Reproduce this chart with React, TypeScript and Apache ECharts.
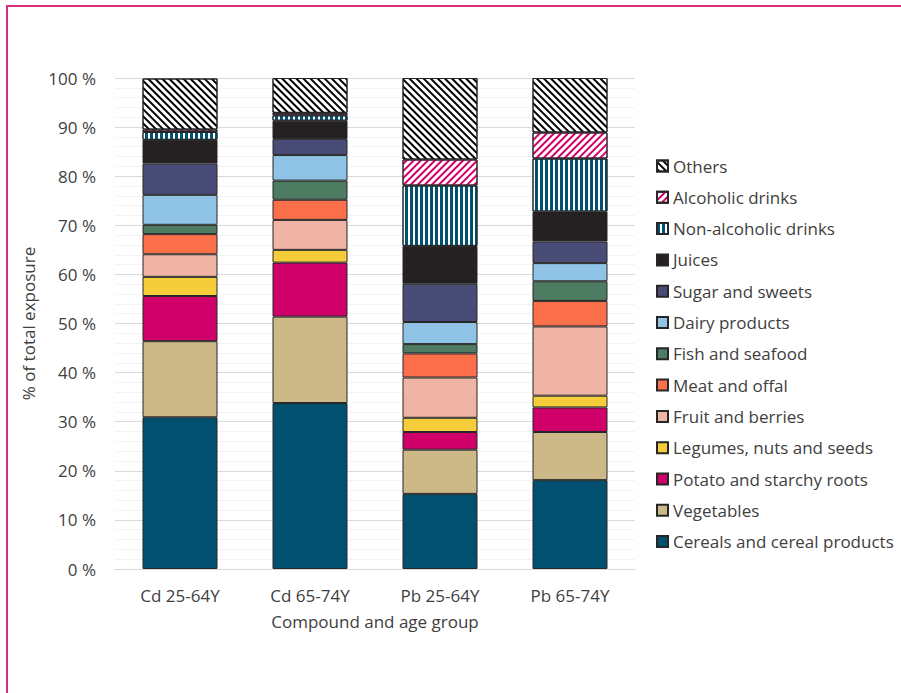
import React, { useEffect, useRef } from "react";
import * as echarts from "echarts";

const categories = ["Cd 25-64Y", "Cd 65-74Y", "Pb 25-64Y", "Pb 65-74Y"];
const yTicks = [0, 10, 20, 30, 40, 50, 60, 70, 80, 90, 100];

const cereals = [30.9, 33.8, 15.3, 18.1];
const vegetables = [15.5, 17.6, 9.0, 9.8];
const potato = [9.2, 11.0, 3.6, 5.0];
const legumes = [3.9, 2.6, 2.9, 2.4];
const fruit = [4.6, 6.1, 8.2, 14.1];
const meat = [4.1, 4.1, 4.9, 5.2];
const fish = [1.9, 3.9, 1.9, 4.0];
const dairy = [6.1, 5.2, 4.5, 3.7];
const sugar = [6.4, 3.3, 7.8, 4.4];
const juices = [4.8, 3.7, 7.7, 6.1];
const nonAlcoholic = [1.6, 1.1, 12.3, 10.8];
const alcoholic = [0.5, 0.5, 5.3, 5.3];
const others = [10.4, 7.1, 16.6, 11.1];

const FONT = "Open Sans";
const TEXT = "#404040";
const FS = 17;

export default function App() {
  const ref = useRef<HTMLDivElement>(null);
  useEffect(() => {
    if (!ref.current) return;
    const chart = echarts.init(ref.current, null, { renderer: "svg" });
    const border = { borderColor: "#262626", borderWidth: 1 };
    const mk = (name: string, data: number[], color: string, decal?: any) => ({
      name,
      type: "bar",
      stack: "total",
      data,
      barWidth: 75,
      itemStyle: { color, ...border, ...(decal ? { decal } : {}) },
    });
    const series = [
      mk("Cereals and cereal products", cereals, "#01506f"),
      mk("Vegetables", vegetables, "#cdb888"),
      mk("Potato and starchy roots", potato, "#cf0069"),
      mk("Legumes, nuts and seeds", legumes, "#f5cd3b"),
      mk("Fruit and berries", fruit, "#f0b4a5"),
      mk("Meat and offal", meat, "#fc6f4b"),
      mk("Fish and seafood", fish, "#4d7c63"),
      mk("Dairy products", dairy, "#8fc4e6"),
      mk("Sugar and sweets", sugar, "#4a4c78"),
      mk("Juices", juices, "#252122"),
      mk("Non-alcoholic drinks", nonAlcoholic, "#ffffff", {
        symbol: "rect",
        symbolSize: 1,
        color: "#01506f",
        dashArrayX: [2.3, 1.2],
        dashArrayY: [1, 0],
        rotation: 0,
      }),
      mk("Alcoholic drinks", alcoholic, "#ffffff", {
        symbol: "rect",
        symbolSize: 1,
        color: "#d10069",
        dashArrayX: [1, 0],
        dashArrayY: [2, 2.3],
        rotation: -Math.PI / 4,
      }),
      mk("Others", others, "#ffffff", {
        symbol: "rect",
        symbolSize: 1,
        color: "#000000",
        dashArrayX: [1, 0],
        dashArrayY: [2, 2.3],
        rotation: Math.PI / 4,
      }),
    ];
    chart.setOption({
      animation: false,
      textStyle: { fontFamily: FONT },
      graphic: [
        {
          type: "polyline",
          shape: { points: [[7, 693], [7, 6], [901, 6]] },
          style: { stroke: "#d62f80", lineWidth: 2, fill: "none" },
        },
      ],
      grid: { left: 115, right: 266, top: 78, bottom: 124 },
      legend: {
        orient: "vertical",
        left: 651,
        top: 151,
        itemWidth: 11,
        itemHeight: 11,
        itemGap: 11.3,
        icon: "rect",
        data: series.map((s) => s.name).reverse(),
        textStyle: { fontSize: FS, color: TEXT, fontFamily: FONT, lineHeight: 20 },
      },
      xAxis: {
        type: "category",
        data: categories,
        axisTick: { show: false },
        axisLine: { lineStyle: { color: "#d9d9d9" } },
        axisLabel: { fontSize: FS, color: TEXT, margin: 18 },
        name: "Compound and age group",
        nameLocation: "middle",
        nameGap: 44,
        nameTextStyle: { fontSize: FS, color: TEXT },
      },
      yAxis: {
        type: "value",
        min: yTicks[0],
        max: yTicks[yTicks.length - 1],
        interval: 10,
        axisLabel: {
          fontSize: FS,
          color: TEXT,
          margin: 19,
          formatter: (v: number) => `${v} %`,
        },
        splitLine: { lineStyle: { color: "#d9d9d9" } },
        minorTick: { show: false, splitNumber: 5 },
        minorSplitLine: { show: true, lineStyle: { color: "#f3f3f3" } },
        name: "% of total exposure",
        nameLocation: "middle",
        nameGap: 72,
        nameTextStyle: { fontSize: FS, color: TEXT },
      },
      series,
    });
    return () => chart.dispose();
  }, []);
  return (
    <div
      ref={ref}
      style={{ position: "fixed", left: 0, top: 0, width: 901, height: 693, background: "#fff" }}
    />
  );
}
